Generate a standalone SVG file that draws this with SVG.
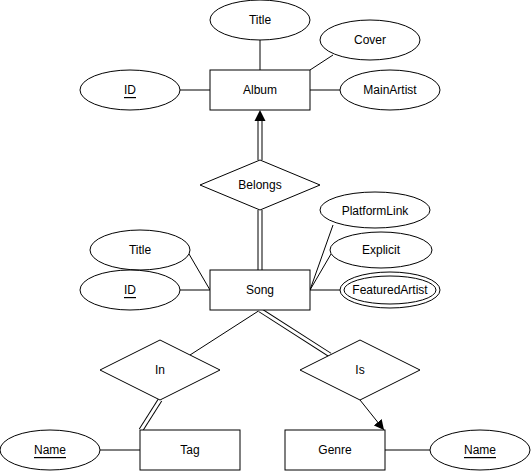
<svg xmlns="http://www.w3.org/2000/svg" width="531" height="472" viewBox="0 0 531 472">
<defs>
<style>
.s{fill:#fff;stroke:#000;stroke-width:1}
.t{font-family:"Liberation Sans",Arial,sans-serif;font-size:12px;fill:#000;text-anchor:middle;dominant-baseline:central}
.u{text-decoration:underline}
.l{stroke:#000;stroke-width:1;fill:none}
.do{stroke:#000;stroke-width:5;fill:none}
.di{stroke:#fff;stroke-width:3;fill:none}
</style>
<marker id="ah" viewBox="0 0 10 10" refX="10" refY="5" markerWidth="10" markerHeight="10" markerUnits="userSpaceOnUse" orient="auto">
<path d="M0,0 L10,5 L0,10 Z" fill="#000"/>
</marker>
</defs>
<rect width="531" height="472" fill="#fff"/>
<g id="connectors">
<line class="l" x1="260" y1="40" x2="260" y2="70"/>
<line class="l" x1="333" y1="55" x2="310" y2="70"/>
<line class="l" x1="310" y1="90" x2="340" y2="90"/>
<line class="l" x1="180" y1="90" x2="210" y2="90"/>
<line class="do" x1="260" y1="160" x2="260" y2="119"/>
<line class="di" x1="260" y1="161" x2="260" y2="119"/>
<path d="M254.5,121 L260,110 L265.5,121 Z" fill="#000"/>
<line class="do" x1="260" y1="210" x2="260" y2="270"/>
<line class="di" x1="260" y1="209" x2="260" y2="271"/>
<line class="l" x1="210" y1="290" x2="189" y2="254"/>
<line class="l" x1="180" y1="290" x2="210" y2="290"/>
<line class="l" x1="310" y1="290" x2="333" y2="225"/>
<line class="l" x1="310" y1="290" x2="331" y2="254"/>
<line class="l" x1="310" y1="290" x2="340" y2="290"/>
<line class="l" x1="260" y1="310" x2="190" y2="355"/>
<line class="do" x1="260" y1="310" x2="330" y2="355"/>
<line class="di" x1="259" y1="309.4" x2="331" y2="355.6"/>
<line class="do" x1="160" y1="400" x2="141" y2="430"/>
<line class="di" x1="160.5" y1="399.2" x2="140.5" y2="430.8"/>
<line class="l" x1="360" y1="400" x2="384" y2="430" marker-end="url(#ah)"/>
<line class="l" x1="100" y1="450" x2="140" y2="450"/>
<line class="l" x1="385" y1="450" x2="430" y2="450"/>
</g>
<g id="album"><rect class="s" x="210" y="70" width="100" height="40"/><text class="t" x="260" y="90">Album</text></g>
<g id="album-title"><ellipse class="s" cx="260" cy="20" rx="50" ry="20"/><text class="t" x="260" y="20">Title</text></g>
<g id="album-cover"><ellipse class="s" cx="370" cy="40" rx="50" ry="20"/><text class="t" x="370" y="40">Cover</text></g>
<g id="album-mainartist"><ellipse class="s" cx="390" cy="90" rx="50" ry="20"/><text class="t" x="390" y="90">MainArtist</text></g>
<g id="album-id"><ellipse class="s" cx="130" cy="90" rx="50" ry="20"/><text class="t u" x="130" y="90">ID</text></g>
<g id="belongs"><polygon class="s" points="260,160 320,185 260,210 200,185"/><text class="t" x="260" y="185">Belongs</text></g>
<g id="song"><rect class="s" x="210" y="270" width="100" height="40"/><text class="t" x="260" y="290">Song</text></g>
<g id="song-title"><ellipse class="s" cx="140" cy="250" rx="50" ry="20"/><text class="t" x="140" y="250">Title</text></g>
<g id="song-id"><ellipse class="s" cx="130" cy="290" rx="50" ry="20"/><text class="t u" x="130" y="290">ID</text></g>
<g id="song-platformlink"><ellipse class="s" cx="375" cy="210" rx="55" ry="18"/><text class="t" x="375" y="211">PlatformLink</text></g>
<g id="song-explicit"><ellipse class="s" cx="381" cy="250" rx="51" ry="18"/><text class="t" x="381" y="250">Explicit</text></g>
<g id="song-featuredartist"><ellipse class="s" cx="390" cy="290" rx="50" ry="18"/><ellipse class="s" cx="390" cy="290" rx="46" ry="14"/><text class="t" x="390" y="290">FeaturedArtist</text></g>
<g id="in"><polygon class="s" points="160,340 220,370 160,400 100,370"/><text class="t" x="160" y="370">In</text></g>
<g id="is"><polygon class="s" points="360,340 420,370 360,400 300,370"/><text class="t" x="360" y="370">Is</text></g>
<g id="tag"><rect class="s" x="140" y="430" width="100" height="40"/><text class="t" x="190" y="450">Tag</text></g>
<g id="tag-name"><ellipse class="s" cx="50" cy="450" rx="50" ry="20"/><text class="t u" x="50" y="450">Name</text></g>
<g id="genre"><rect class="s" x="285" y="430" width="100" height="40"/><text class="t" x="335" y="450">Genre</text></g>
<g id="genre-name"><ellipse class="s" cx="480" cy="450" rx="50" ry="20"/><text class="t u" x="480" y="450">Name</text></g>
</svg>
